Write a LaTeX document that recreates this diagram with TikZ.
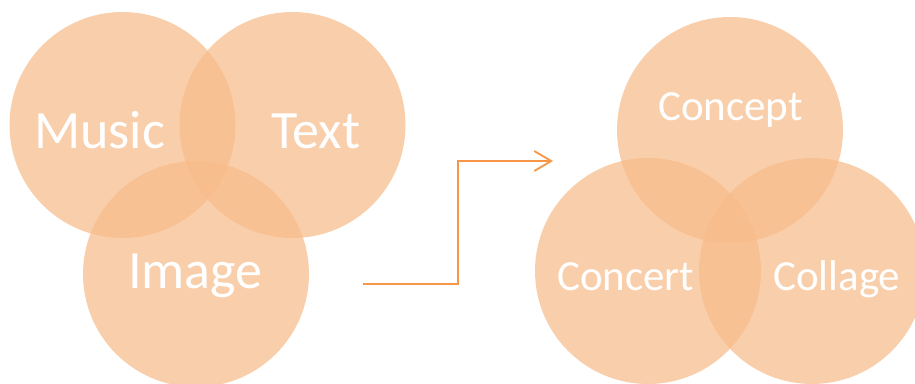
\documentclass[tikz,border=0pt]{standalone}
\usepackage{fontspec}
\setmainfont{Carlito}
\usetikzlibrary{arrows.meta}
\definecolor{blobfill}{RGB}{247,187,137}
\definecolor{flowline}{RGB}{247,150,70}
\tikzset{
  blob/.style={circle, minimum size=226pt, inner sep=0pt, fill=blobfill, fill opacity=0.71, draw=none},
  bigword/.style={text=white, anchor=base west, inner sep=0pt, font=\fontsize{54}{54}\selectfont},
  smallword/.style={text=white, anchor=base west, inner sep=0pt, font=\fontsize{43}{43}\selectfont},
  flow/.style={draw=flowline, line width=1.8pt, -{Straight Barb[length=17pt,width=20pt,line width=1.8pt]}}
}
\begin{document}
\begin{tikzpicture}[x=1pt, y=-1pt]
  \useasboundingbox (0,0) rectangle (915,383);
  \begin{scope}
    \clip (0,0) rectangle (915,383);
    % first group
    \node[blob] (music) at (122.5,125) {};
    \node[blob] (text) at (292.5,125) {};
    \node[blob] (image) at (196,274) {};
    % second group
    \node[blob] (concept) at (730,130) {};
    \node[blob] (concert) at (648,271) {};
    \node[blob] (collage) at (812,271) {};
  \end{scope}
  % labels
  \node[bigword] (musiclbl) at (34,148) {Music};
  \node[bigword] (textlbl) at (271,148) {Text};
  \node[bigword] (imagelbl) at (128,288) {Image};
  \node[smallword] (conceptlbl) at (658,120) {Concept};
  \node[smallword] (concertlbl) at (557,290) {Concert};
  \node[smallword] (collagelbl) at (773,290) {Collage};
  % stepped connector between the groups
  \coordinate (from) at (363,284);
  \coordinate (bend) at (458,0);
  \coordinate (to) at (553,161);
  \draw[flow] (from) -- (from -| bend) |- (to);
\end{tikzpicture}
\end{document}
